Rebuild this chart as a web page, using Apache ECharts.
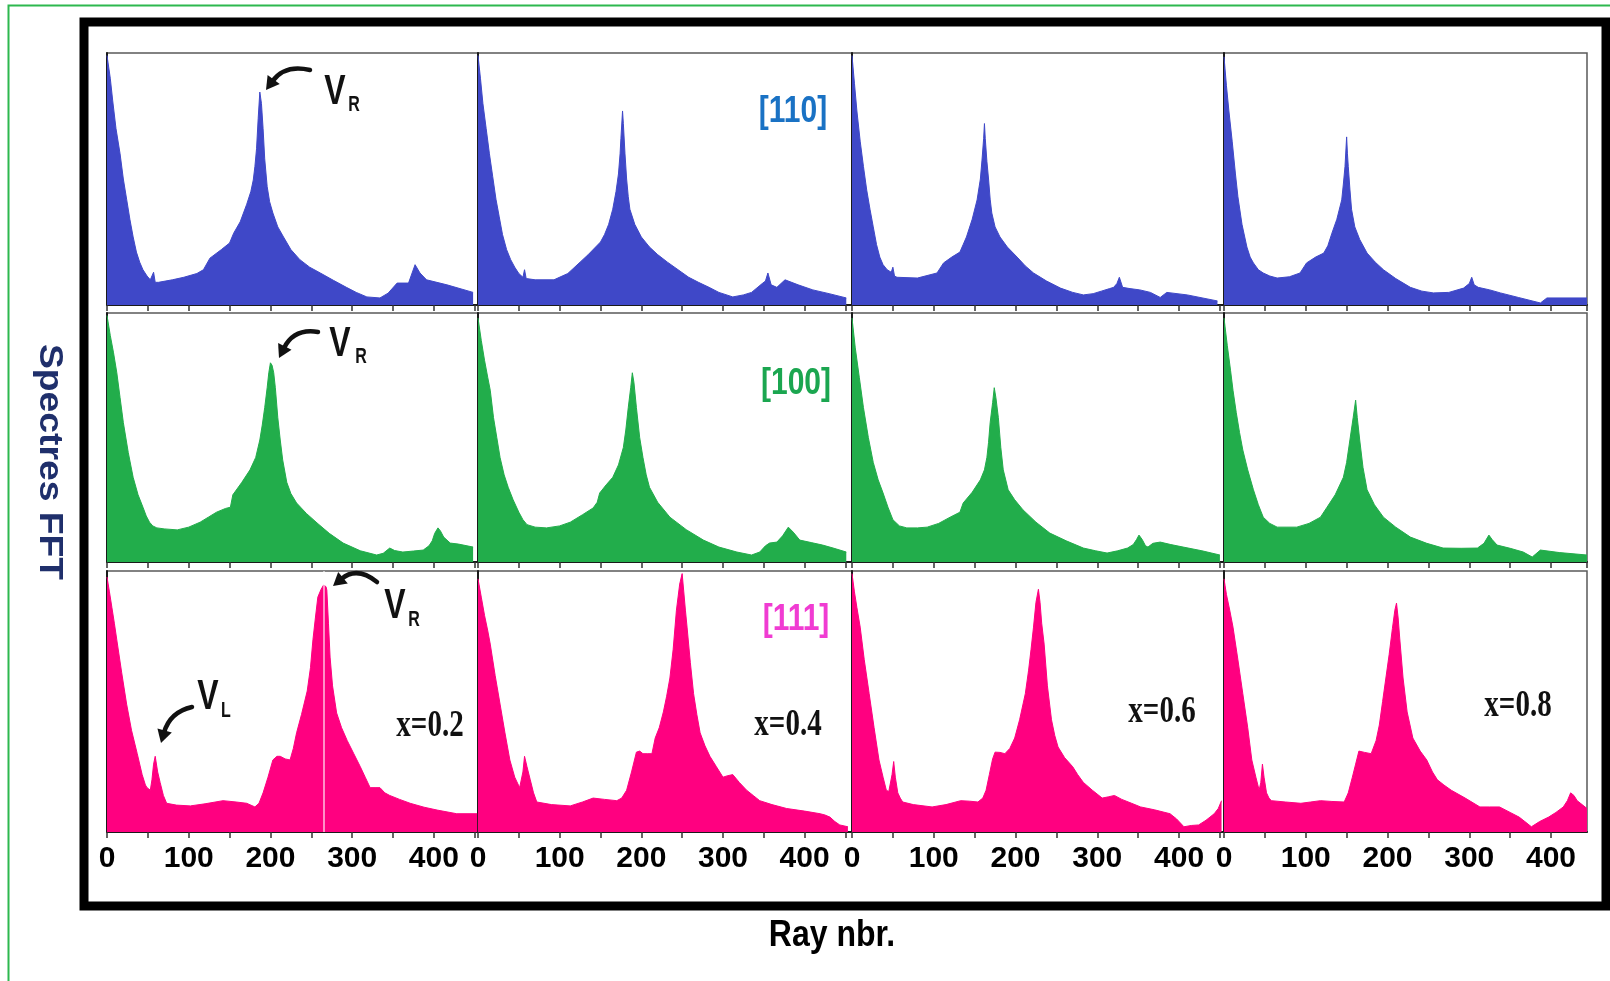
<!DOCTYPE html>
<html>
<head>
<meta charset="utf-8">
<title>Spectres FFT</title>
<script src="https://cdn.jsdelivr.net/npm/echarts@6/dist/echarts.min.js"></script>
<style>
  html, body { margin: 0; padding: 0; background: #fff; }
  #chart { width: 1610px; height: 981px; }
</style>
</head>
<body>
<div id="chart"></div>
<script>
// ---- Data: FFT spectra, [ray nbr., relative amplitude %] ----
const compositions = ['x=0.2', 'x=0.4', 'x=0.6', 'x=0.8'];
const orientations = ['[110]', '[100]', '[111]'];
const tickStep = 50;
const labelStep = 100;

// [110] direction
const s110_02 = [[0,99],[4,90],[7,81],[11,70],[16,60],[20,50],[24,42],[28,34],[32,27],[36,21],[40,17],[44,14],[49,11.5],[53,10],[55,9.5],[57,13],[59,9],[63,9],[80,10],[94,11],[110,12.5],[118,14],[126,18.6],[140,22],[150,24.6],[155,28.5],[163,33],[171,40],[176,45],[179,49.6],[181,55],[183,62],[185,74],[187,84.5],[189,80],[191,70],[193,58],[196,47],[199,41],[203,36.5],[209,31],[216,27],[225,22],[236,18],[248,15],[261,12.7],[277,9.8],[293,7],[305,5],[318,3.2],[334,2.8],[344,4.7],[355,8.7],[369,8.7],[377,16],[383,12.7],[391,10],[416,8],[448,5]];
const s110_04 = [[0,99],[3,90],[6,80],[10,70],[14,60],[18,51],[22,42],[26,35],[30,28],[35,22],[40,18],[45,15],[50,12.5],[55,11],[57,14],[59,10.5],[70,10],[93,10],[110,12.5],[125,17],[135,20],[144,23],[150,25],[155,28],[160,32],[165,38],[169,45],[172,52],[174,60],[175,66],[177,77],[178,72],[180,60],[182,50],[184,43],[186,38],[192,32],[200,27],[210,23],[220,20],[232,17],[245,14],[258,11],[270,9],[283,7],[295,5],[312,3.2],[325,4],[335,5],[348,8.5],[352,9.5],[355,12.7],[359,8],[366,7],[376,10],[392,8],[410,6],[430,4.5],[451,2.8]];
const s110_06 = [[0,99],[3,88],[6,77],[10,65],[14,55],[18,45.6],[22,38],[26,31],[30,24],[34,19],[38,16],[43,14],[48,13],[50,15],[52,11.5],[55,11],[80,10.7],[104,12.7],[112,16.7],[122,19],[132,21],[136,24],[140,27],[147,34],[153,41.7],[157,50],[159,57.5],[161,66],[162,72],[163,66],[165,57],[167,50],[169,42],[171,36.5],[175,31],[181,27],[190,23],[202,19],[212,15.5],[222,12.7],[238,9.5],[255,6.7],[270,5],[283,4],[295,4.5],[305,5.5],[315,6.5],[320,7],[324,8.5],[327,11],[331,7],[340,6.5],[352,6],[365,5],[377,3],[385,5],[410,4],[447,1.6]];
const s110_08 = [[0,98.5],[3,87],[6,77],[10,65],[14,52],[17,43],[22,32],[28,23],[32,19],[36,16.7],[42,14],[48,12.7],[56,11.5],[65,10.7],[80,11.2],[93,12.7],[101,16.7],[112,19],[122,20.6],[127,23.5],[132,28.5],[138,34],[144,41.7],[146,48],[148,55],[150,66.7],[151,60],[152,55],[154,46],[156,38],[160,31],[166,26],[175,20.6],[185,17],[195,14],[210,10.5],[228,7],[242,5.5],[256,4.8],[275,5],[293,6.7],[300,8.5],[303,11],[306,8],[311,7],[325,6],[338,4.8],[360,3],[387,0.8],[395,2.8],[444,2.8]];

// [100] direction
const s100_02 = [[0,99],[4,91],[8,84],[12,76],[16,66],[20,56],[26,44],[32,34],[38,27],[44,22],[48,18.5],[52,16],[56,14.5],[61,13.7],[70,13.3],[86,12.9],[100,14],[114,16],[124,18],[134,20],[145,21.5],[151,22],[154,27],[165,32],[175,37],[182,42],[187,49],[190,55],[193,62],[196,70],[198,76],[200,80],[202,79],[204,76],[206,70],[209,58],[212,49],[215,41],[220,32],[225,27.5],[232,23.7],[244,19.5],[257,15.7],[272,11.5],[289,7.6],[310,4.5],[330,2.8],[338,3.5],[346,5.6],[352,4.6],[362,4],[375,4.4],[387,4.8],[394,6.5],[398,8.5],[401,11.5],[405,13.7],[408,12.5],[412,10],[420,7.6],[430,7.2],[448,6]];
const s100_04 = [[0,98],[4,89],[8,81],[12,74],[15,69],[19,58],[23,50],[27,42],[32,35],[37,30],[43,25],[50,20],[55,17],[60,15],[70,14],[84,13.7],[100,14.5],[113,16],[128,19],[141,21.7],[146,24],[149,27.7],[157,31],[165,34],[172,39],[178,46],[181,53],[184,62],[187,70],[189,76],[191,72],[194,62],[198,50],[202,42],[206,35],[210,30],[220,24],[235,18],[255,13],[276,8.8],[295,6],[317,4],[335,2.8],[345,4],[352,6.5],[357,7.6],[366,8],[373,10.5],[380,14],[386,12],[394,8.8],[408,7.8],[422,6.8],[436,5.5],[451,4]];
const s100_06 = [[0,98],[4,86],[9,74],[14,62],[20,50],[26,40],[32,33],[38,27.7],[44,22],[50,17],[58,14.5],[67,13.7],[80,13.7],[92,14],[106,15.5],[120,18],[132,20],[136,23.7],[147,28],[157,33],[162,37],[165,42],[167,48],[169,56],[172,64],[174,70],[176,66],[179,58],[182,46],[185,37],[191,29],[199,25],[209,21],[225,16],[242,11.6],[262,8.5],[283,5.6],[298,4.5],[312,3.6],[325,4.5],[337,5.6],[344,7],[348,9],[351,10.8],[355,9],[359,6.5],[362,6],[368,7.5],[377,8],[390,7],[405,6],[428,4.5],[450,2.8]];
const s100_08 = [[0,98],[4,87],[8,77],[11,69],[15,60],[19,52],[23,45],[29,37],[36,29],[42,23],[48,18],[56,15.5],[65,14],[77,14],[89,14],[104,15.5],[118,18],[126,22],[136,27],[146,34],[150,40],[154,49],[158,58],[161,65],[163,58],[166,49],[170,38],[175,29],[184,23],[195,18],[210,14],[228,10],[248,7.5],[268,5.6],[290,5.5],[310,5.6],[318,7.5],[324,10.8],[328,9],[334,6.8],[350,5.5],[366,4],[377,2],[387,4.8],[410,3.8],[444,2.8]];

// [111] direction
const s111_02 = [[0,97.7],[3,92],[6,86],[9,80],[12,73.6],[18,61],[24,49],[30,39],[37,30],[43,22],[47,18],[49,17],[53,16],[55,20],[57,26],[59,29],[62,23],[65,19],[69,14],[73,11],[85,10.3],[102,10],[120,10.8],[142,12],[158,11.5],[171,11],[181,9.6],[186,11],[191,15],[197,21],[203,27.6],[208,29],[212,29],[218,28],[224,27.6],[228,32],[232,38],[238,45],[245,54],[249,63],[252,73.6],[255,82],[258,90],[262,93],[265,94.6],[268,94],[269,92.7],[271,80],[273,67],[276,56],[281,45.6],[287,40],[294,35],[302,30],[310,25],[316,21],[322,17],[328,17],[334,17],[340,15],[346,14],[358,12.5],[371,11],[388,9.5],[404,8.4],[428,7],[453,7]];
const s111_04 = [[0,97],[4,90],[8,83],[12,77],[15,72],[21,60],[27,49],[33,38],[39,27.6],[45,21],[51,17],[53,17],[55,23],[57,29],[60,25],[64,20],[68,15],[72,11.5],[90,10.5],[113,10],[128,11.5],[141,13],[155,12.5],[170,12],[176,13],[182,16],[188,23],[194,30.6],[198,31],[202,30],[208,30],[213,30],[217,36],[222,40],[227,46],[231,52],[235,59],[239,70],[243,85],[247,95],[250,99],[252,92],[254,85],[256,78.5],[260,65],[264,53],[268,45],[272,38],[278,33],[284,29],[292,25],[300,21],[305,21.5],[312,22],[320,19],[329,16],[337,14],[345,12],[360,10.5],[378,9],[400,8],[419,7],[425,6.5],[431,5.7],[437,4],[443,2.7],[453,2]];
const s111_06 = [[0,99],[3,92],[6,86],[10,78.5],[15,66],[21,53],[27,40],[33,27.6],[38,21],[42,16],[45,15.5],[47,16],[49,22],[51,27],[53,21],[56,15],[59,13],[62,11.5],[75,10.5],[98,9.6],[115,10.5],[133,12],[144,11.8],[154,11.5],[160,13],[164,16],[168,22],[172,28],[175,30.6],[181,30.5],[187,30],[193,32],[199,36],[205,43],[212,53],[216,62],[219,70],[222,78.5],[225,88],[228,93],[230,88],[232,80],[235,72],[239,56],[244,43],[248,37],[252,32.6],[260,28.5],[270,25],[276,22],[283,19],[294,16],[306,13],[314,13.5],[321,14],[330,12.5],[342,11],[353,9.6],[370,8.5],[389,7],[397,5],[406,2],[415,2.5],[424,2.7],[433,4.5],[443,7],[448,9],[452,12]];
const s111_08 = [[0,97],[3,91],[7,85],[11,78.5],[17,66],[23,53],[29,40],[34,27.6],[39,21],[43,16],[45,19],[47,26],[49,21],[52,15],[55,13],[58,12],[75,11.5],[94,11],[106,11.5],[118,12],[132,11.7],[147,11.5],[152,15],[157,21],[161,26],[165,31],[172,30.5],[180,30],[186,35],[190,41],[194,50],[198,59],[202,68],[206,78],[209,85],[211,87.7],[213,82],[215,74],[219,59],[224,46],[231,36],[240,31],[248,27.6],[255,23],[261,20],[269,18],[278,16],[295,13],[313,9.6],[325,9.6],[337,9.6],[350,7.5],[361,5.7],[368,4],[376,2],[386,4],[397,5.7],[406,7.5],[415,9.6],[420,12],[424,15],[428,14],[432,12],[438,10.5],[444,9]];

const spectraRows = [
  [s110_02, s110_04, s110_06, s110_08],
  [s100_02, s100_04, s100_06, s100_08],
  [s111_02, s111_04, s111_06, s111_08]
];

// ---- Layout and style ----
const COL_LEFT = [107, 478, 852, 1224];
const COL_WIDTH = [371, 374, 372, 363];
const ROW_TOP = [53, 313, 571];
const ROW_HEIGHT = [252, 249, 261];
const PX_PER_RAY = 0.817;
const ROW_COLORS = ['#3F48C8', '#22AD4B', '#FF0080'];
const LABEL_COLORS = ['#1A72C4', '#1BA650', '#F03CD2'];

const SANS = '"Liberation Sans",Arial,sans-serif';
const SERIF = '"Liberation Serif","Times New Roman",serif';

const grids = [], xAxes = [], yAxes = [], series = [];
spectraRows.forEach((row, r) => {
  row.forEach((data, c) => {
    const i = r * 4 + c;
    grids.push({
      left: COL_LEFT[c], top: ROW_TOP[r], width: COL_WIDTH[c], height: ROW_HEIGHT[r],
      show: true, borderColor: '#5a5a5a', borderWidth: 1.5, backgroundColor: '#fff',
      containLabel: false, outerBoundsMode: 'none'
    });
    xAxes.push({
      type: 'value', gridIndex: i, min: 0, max: Math.round(COL_WIDTH[c] / PX_PER_RAY),
      interval: tickStep,
      axisLine: { show: true, onZero: false, lineStyle: { color: '#1a1a1a', width: 2 } },
      axisTick: { show: true, length: 6, lineStyle: { color: '#333', width: 1.5 } },
      splitLine: { show: false },
      axisLabel: {
        show: r === 2, margin: 12, showMaxLabel: false, hideOverlap: false,
        color: '#000', fontFamily: SANS, fontWeight: 'bold', fontSize: 30,
        formatter: v => (v % labelStep === 0 ? String(v) : '')
      }
    });
    yAxes.push({
      type: 'value', gridIndex: i, min: 0, max: 100,
      axisLine: { show: true, lineStyle: { color: '#1a1a1a', width: 2 } },
      axisTick: { show: false }, axisLabel: { show: false }, splitLine: { show: false }
    });
    const s = {
      type: 'line', xAxisIndex: i, yAxisIndex: i, data: data,
      symbol: 'none', silent: true, animation: false,
      lineStyle: { width: 1, color: ROW_COLORS[r] },
      areaStyle: { color: ROW_COLORS[r], opacity: 1 }
    };
    if (r === 2 && c === 0) {
      // thin light streak through the main peak
      s.markLine = {
        silent: true, symbol: 'none', animation: false,
        label: { show: false },
        lineStyle: { color: 'rgba(255,255,255,0.75)', width: 1.5, type: 'solid' },
        data: [{ xAxis: 265 }]
      };
    }
    series.push(s);
  });
});

// ---- Annotations ----
function text(str, x, y, font, fill, extra) {
  return Object.assign({
    type: 'text', x: x, y: y, z: 100,
    style: { text: str, x: 0, y: 0, font: font, fill: fill,
             align: 'center', verticalAlign: 'middle',
             textAlign: 'center', textVerticalAlign: 'middle' }
  }, extra || {});
}

function curvedArrow(x1, y1, cx, cy, x2, y2) {
  const dx = x2 - cx, dy = y2 - cy, L = Math.hypot(dx, dy);
  const ux = dx / L, uy = dy / L, head = 13, half = 7.5;
  const bx = x2 - ux * head, by = y2 - uy * head;
  return [
    { type: 'bezierCurve', z: 100,
      shape: { x1: x1, y1: y1, x2: bx + ux * 2, y2: by + uy * 2, cpx1: cx, cpy1: cy },
      style: { stroke: '#111', lineWidth: 4.5, fill: 'none', lineCap: 'round' } },
    { type: 'polygon', z: 100,
      shape: { points: [[x2, y2], [bx - uy * half, by + ux * half], [bx + uy * half, by - ux * half]] },
      style: { fill: '#111' } }
  ];
}

const graphics = [];
// outer frames
graphics.push({ type: 'rect', z: 0, shape: { x: 8.5, y: 5.5, width: 1700, height: 1000 },
  style: { fill: 'none', stroke: '#2DB84F', lineWidth: 2 } });
graphics.push({ type: 'rect', z: 0, shape: { x: 84, y: 22, width: 1522, height: 884 },
  style: { fill: 'none', stroke: '#000', lineWidth: 9 } });

// orientation labels
const orientPos = [[793, 112], [796, 384], [796, 620]];
orientations.forEach((o, r) => {
  graphics.push(text(o, orientPos[r][0], orientPos[r][1], 'bold 30px ' + SANS, LABEL_COLORS[r],
    { scaleY: 1.25 }));
});

// composition labels
const compPos = [[430, 726], [788, 725], [1162, 712], [1518, 706]];
compositions.forEach((t, c) => {
  graphics.push(text(t, compPos[c][0], compPos[c][1], 'bold 29px ' + SERIF, '#111', { scaleY: 1.3 }));
});

// mode labels V_R / V_L
const modeLabels = [
  { v: [335, 93], sub: 'R', s: [354, 105] },
  { v: [340, 345], sub: 'R', s: [361, 357] },
  { v: [395, 607], sub: 'R', s: [414, 620] },
  { v: [208, 698], sub: 'L', s: [226, 711] }
];
modeLabels.forEach(m => {
  graphics.push(text('V', m.v[0], m.v[1], 'bold 32px ' + SANS, '#111', { scaleY: 1.3 }));
  graphics.push(text(m.sub, m.s[0], m.s[1], 'bold 16px ' + SANS, '#111', { scaleY: 1.35 }));
});
graphics.push(...curvedArrow(310, 70, 285, 64, 266, 90));
graphics.push(...curvedArrow(318, 332, 294, 328, 279, 358));
graphics.push(...curvedArrow(377, 582, 357, 566, 333, 586));
graphics.push(...curvedArrow(192, 707, 170, 712, 161, 743));

// axis titles
graphics.push(text('Spectres FFT', 49, 462, 'bold 33px ' + SANS, '#1F2F6B',
  { rotation: -Math.PI / 2, scaleX: 1.13 }));
graphics.push(text('Ray nbr.', 832, 936, 'bold 32px ' + SANS, '#000', { scaleY: 1.15 }));

const chart = echarts.init(document.getElementById('chart'), null, { renderer: 'canvas' });
chart.setOption({
  backgroundColor: '#fff',
  animation: false,
  grid: grids,
  xAxis: xAxes,
  yAxis: yAxes,
  series: series,
  graphic: { elements: graphics }
});
</script>
</body>
</html>
